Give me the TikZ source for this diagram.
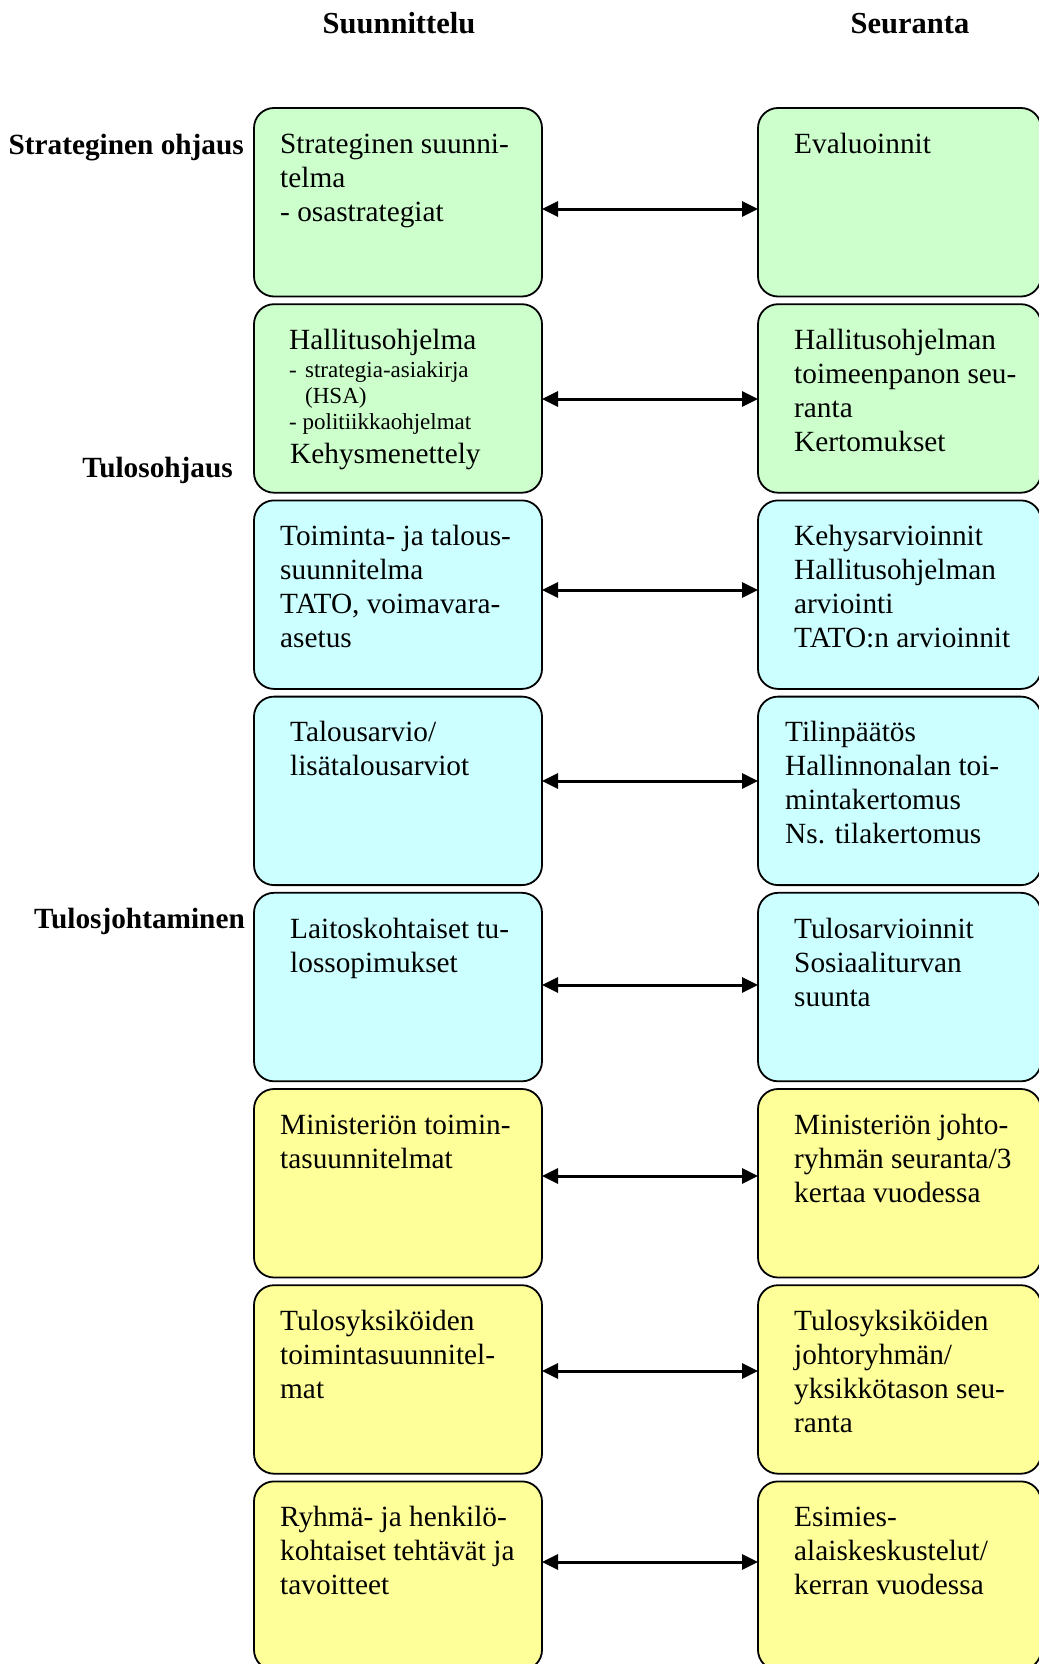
\documentclass[tikz,border=0pt]{standalone}
\usepackage{fontspec}
\setmainfont{Liberation Serif}
\usetikzlibrary{arrows.meta,calc}
\definecolor{planGreen}{HTML}{CCFFCC}
\definecolor{planCyan}{HTML}{CCFFFF}
\definecolor{planYellow}{HTML}{FFFF99}
% strut fixing the height of the first text line in a box
\newcommand{\firstline}{\rule{0pt}{24pt}}
\newcommand{\smallfirst}{\rule{0pt}{18pt}}
\begin{document}
\begin{tikzpicture}[x=1pt,y=-1pt,
  stage/.style={draw=black, line width=1.8pt, rounded corners=20pt, inner sep=0pt,
    outer sep=0pt, minimum height=188.5pt, anchor=north west},
  plan/.style={stage, minimum width=288pt},
  follow/.style={stage, minimum width=283pt},
  boxtext/.style={inner sep=0pt, anchor=north west, align=left,
    font=\fontsize{29.3}{34}\selectfont},
  smalltext/.style={inner sep=0pt, anchor=north west, align=left,
    font=\fontsize{23}{26}\selectfont},
  heading/.style={inner sep=0pt, anchor=base, font=\fontsize{30.5}{36}\selectfont\bfseries},
  level/.style={inner sep=0pt, anchor=base east, font=\fontsize{29.3}{34}\selectfont\bfseries},
  link/.style={line width=3pt, {Triangle[length=16pt,width=15pt]}-{Triangle[length=16pt,width=15pt]}}
]
\fill[white] (0,0) rectangle (1038,1664);
\useasboundingbox (0,0) rectangle (1038,1664);

% column headings
\node[heading] (hplan) at (399,34) {Suunnittelu};
\node[heading] (hfollow) at (910,34) {Seuranta};

% steering levels
\node[level] (lstrat) at (244,155) {Strateginen ohjaus};
\node[level] (ltulos) at (233,477) {Tulosohjaus};
\node[level] (ljohto) at (245,928) {Tulosjohtaminen};

% planning boxes
\node[plan, fill=planGreen]  (p1) at (254,108)    {};
\node[plan, fill=planGreen]  (p2) at (254,304.2)  {};
\node[plan, fill=planCyan]   (p3) at (254,500.4)  {};
\node[plan, fill=planCyan]   (p4) at (254,696.6)  {};
\node[plan, fill=planCyan]   (p5) at (254,892.8)  {};
\node[plan, fill=planYellow] (p6) at (254,1089)   {};
\node[plan, fill=planYellow] (p7) at (254,1285.2) {};
\node[plan, fill=planYellow] (p8) at (254,1481.4) {};

% follow-up boxes
\node[follow, fill=planGreen]  (f1) at (758,108)    {};
\node[follow, fill=planGreen]  (f2) at (758,304.2)  {};
\node[follow, fill=planCyan]   (f3) at (758,500.4)  {};
\node[follow, fill=planCyan]   (f4) at (758,696.6)  {};
\node[follow, fill=planCyan]   (f5) at (758,892.8)  {};
\node[follow, fill=planYellow] (f6) at (758,1089)   {};
\node[follow, fill=planYellow] (f7) at (758,1285.2) {};
\node[follow, fill=planYellow] (f8) at (758,1481.4) {};

% planning texts
\node[boxtext] (p1t) at ($(p1.north west)+(26,21)$) {\firstline Strateginen suunni-\\telma\\- osastrategiat};
\node[boxtext] (p2t) at ($(p2.north west)+(35,21)$) {\firstline Hallitusohjelma};
\node[smalltext] (p2l) at ($(p2.north west)+(35,55)$) {\smallfirst -\hspace{8.3pt}strategia-asiakirja\\\hspace{16pt}(HSA)\\- politiikkaohjelmat};
\node[boxtext] (p2k) at ($(p2.north west)+(36,135)$) {\firstline Kehysmenettely};
\node[boxtext] (p3t) at ($(p3.north west)+(26,21)$) {\firstline Toiminta- ja talous-\\suunnitelma\\TATO, voimavara-\\asetus};
\node[boxtext] (p4t) at ($(p4.north west)+(36,21)$) {\firstline Talousarvio/\\lisätalousarviot};
\node[boxtext] (p5t) at ($(p5.north west)+(36,21)$) {\firstline Laitoskohtaiset tu-\\lossopimukset};
\node[boxtext] (p6t) at ($(p6.north west)+(26,21)$) {\firstline Ministeriön toimin-\\tasuunnitelmat};
\node[boxtext] (p7t) at ($(p7.north west)+(26,21)$) {\firstline Tulosyksiköiden\\toimintasuunnitel-\\mat};
\node[boxtext] (p8t) at ($(p8.north west)+(26,21)$) {\firstline Ryhmä- ja henkilö-\\kohtaiset tehtävät ja\\tavoitteet};

% follow-up texts
\node[boxtext] (f1t) at ($(f1.north west)+(36,21)$) {\firstline Evaluoinnit};
\node[boxtext] (f2t) at ($(f2.north west)+(36,21)$) {\firstline Hallitusohjelman\\toimeenpanon seu-\\ranta\\Kertomukset};
\node[boxtext] (f3t) at ($(f3.north west)+(36,21)$) {\firstline Kehysarvioinnit\\Hallitusohjelman\\arviointi\\TATO:n arvioinnit};
\node[boxtext] (f4t) at ($(f4.north west)+(27,21)$) {\firstline Tilinpäätös\\Hallinnonalan toi-\\mintakertomus\\Ns. tilakertomus};
\node[boxtext] (f5t) at ($(f5.north west)+(36,21)$) {\firstline Tulosarvioinnit\\Sosiaaliturvan\\suunta};
\node[boxtext] (f6t) at ($(f6.north west)+(36,21)$) {\firstline Ministeriön johto-\\ryhmän seuranta/3\\kertaa vuodessa};
\node[boxtext] (f7t) at ($(f7.north west)+(36,21)$) {\firstline Tulosyksiköiden\\johtoryhmän/\\yksikkötason seu-\\ranta};
\node[boxtext] (f8t) at ($(f8.north west)+(36,21)$) {\firstline Esimies-\\alaiskeskustelut/\\kerran vuodessa};

% two-way links between planning and follow-up
\coordinate (a1) at (0,209);
\coordinate (a2) at (0,399);
\coordinate (a3) at (0,590);
\coordinate (a4) at (0,781);
\coordinate (a5) at (0,985);
\coordinate (a6) at (0,1176);
\coordinate (a7) at (0,1371);
\coordinate (a8) at (0,1562);
\foreach \i in {1,...,8} {
  \draw[link] (p\i.east |- a\i) -- (f\i.west |- a\i);
}
\end{tikzpicture}
\end{document}
